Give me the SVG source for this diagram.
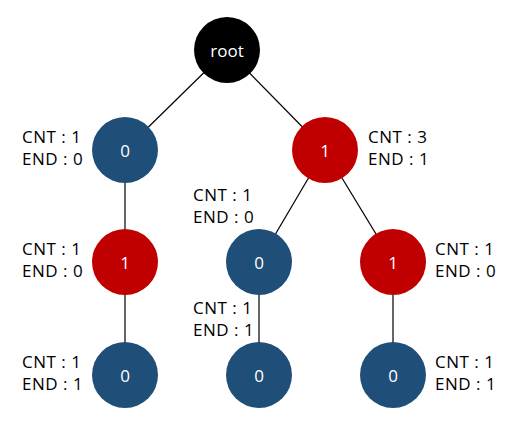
<svg xmlns="http://www.w3.org/2000/svg" width="514" height="423" viewBox="0 0 514 423">
<style>
.e{stroke:#000;stroke-width:1.2;fill:none}
.b{fill:#1F4E79}
.r{fill:#C00000}
.k{fill:#000}
.n{font-family:"Open Sans","Noto Sans",sans-serif;font-size:17px;fill:#fff;text-anchor:middle;dominant-baseline:central}
.l{font-family:"Open Sans","Noto Sans",sans-serif;font-size:17px;letter-spacing:0.5px;fill:#000}
</style>
<rect width="514" height="423" fill="#fff"/>
<g id="connectors">
<line class="e" x1="227" y1="50" x2="125" y2="150"/>
<line class="e" x1="227" y1="50" x2="325" y2="150"/>
<line class="e" x1="125" y1="150" x2="125" y2="262"/>
<line class="e" x1="325" y1="150" x2="259" y2="262"/>
<line class="e" x1="325" y1="150" x2="393" y2="262"/>
<line class="e" x1="125" y1="262" x2="125" y2="375"/>
<line class="e" x1="259" y1="262" x2="259" y2="375"/>
<line class="e" x1="393" y1="262" x2="393" y2="375"/>
</g>
<g id="root"><circle class="k" cx="227" cy="50" r="33"/><text class="n" x="227" y="50">root</text></g>
<g id="n0"><circle class="b" cx="125" cy="150" r="33"/><text class="n" x="125" y="150">0</text>
<text class="l" x="22" y="143">CNT : 1</text><text class="l" x="22" y="165">END : 0</text></g>
<g id="n1"><circle class="r" cx="325" cy="150" r="33"/><text class="n" x="325" y="150">1</text>
<text class="l" x="368" y="143">CNT : 3</text><text class="l" x="368" y="165">END : 1</text></g>
<g id="n01"><circle class="r" cx="125" cy="262" r="33"/><text class="n" x="125" y="262">1</text>
<text class="l" x="22" y="255">CNT : 1</text><text class="l" x="22" y="277">END : 0</text></g>
<g id="n10"><circle class="b" cx="259" cy="262" r="33"/><text class="n" x="259" y="262">0</text>
<text class="l" x="193" y="201">CNT : 1</text><text class="l" x="193" y="223">END : 0</text></g>
<g id="n11"><circle class="r" cx="393" cy="262" r="33"/><text class="n" x="393" y="262">1</text>
<text class="l" x="435" y="255">CNT : 1</text><text class="l" x="435" y="277">END : 0</text></g>
<g id="n010"><circle class="b" cx="125" cy="375" r="33"/><text class="n" x="125" y="375">0</text>
<text class="l" x="22" y="368">CNT : 1</text><text class="l" x="22" y="390">END : 1</text></g>
<g id="n100"><circle class="b" cx="259" cy="375" r="33"/><text class="n" x="259" y="375">0</text>
<text class="l" x="193" y="314">CNT : 1</text><text class="l" x="193" y="336">END : 1</text></g>
<g id="n110"><circle class="b" cx="393" cy="375" r="33"/><text class="n" x="393" y="375">0</text>
<text class="l" x="435" y="368">CNT : 1</text><text class="l" x="435" y="390">END : 1</text></g>
</svg>
